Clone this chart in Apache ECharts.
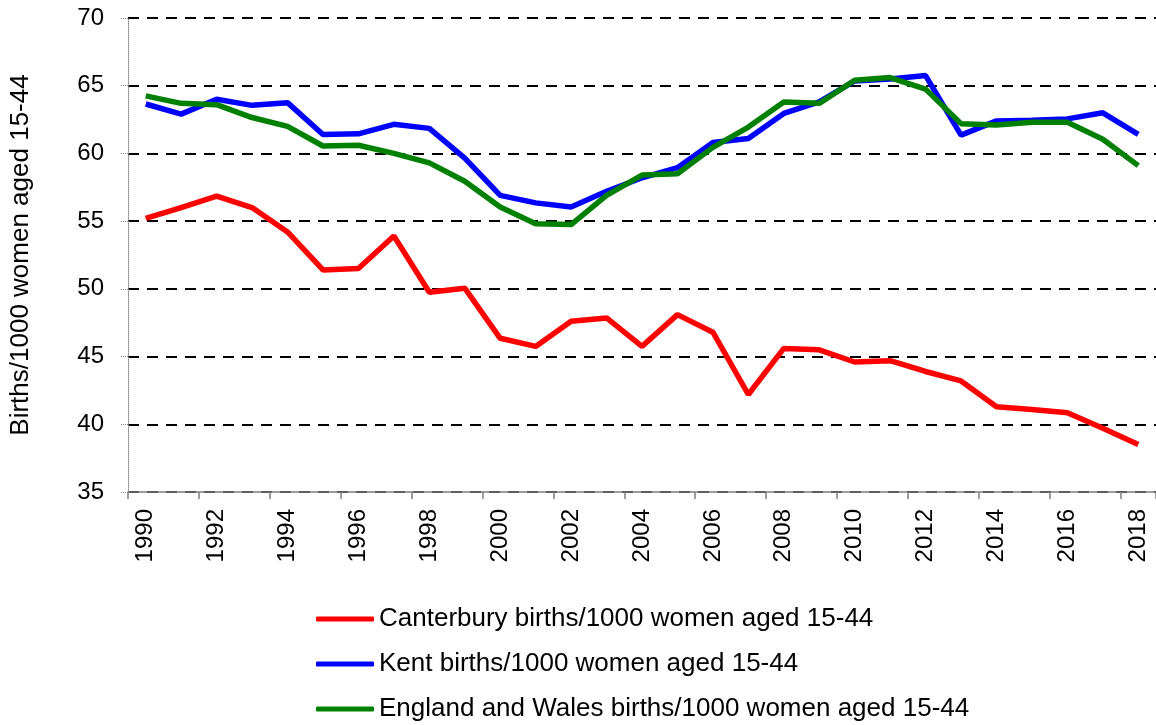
<!DOCTYPE html>
<html style="height: 100%">
<head>
    <meta charset="utf-8">
    <title>Births per 1000 women</title>
    <script src="https://cdn.jsdelivr.net/npm/echarts@6/dist/echarts.min.js"></script>
</head>
<body style="height: 100%; margin: 0; background: #fff">
    <div id="main" style="width: 1156px; height: 725px"></div>
    <script type="text/javascript">
        // years on the x axis
        var years = ['1990', '1991', '1992', '1993', '1994', '1995', '1996', '1997', '1998', '1999',
            '2000', '2001', '2002', '2003', '2004', '2005', '2006', '2007', '2008', '2009',
            '2010', '2011', '2012', '2013', '2014', '2015', '2016', '2017', '2018'];

        // births per 1000 women aged 15-44
        var canterbury = [55.2, 56.0, 56.85, 56.0, 54.2, 51.4, 51.5, 53.9, 49.75, 50.05,
            46.35, 45.75, 47.6, 47.85, 45.75, 48.1, 46.8, 42.2, 45.6, 45.5,
            44.6, 44.7, 43.9, 43.2, 41.3, 41.1, 40.85, 39.7, 38.5];
        var kent = [63.65, 62.9, 64.0, 63.55, 63.75, 61.4, 61.45, 62.15, 61.85, 59.65,
            56.9, 56.35, 56.05, 57.2, 58.2, 58.95, 60.8, 61.1, 62.95, 63.8,
            65.35, 65.5, 65.75, 61.35, 62.4, 62.45, 62.55, 63.0, 61.4];
        var englandWales = [64.25, 63.7, 63.6, 62.65, 62.0, 60.55, 60.6, 60.0, 59.3, 57.95,
            56.05, 54.8, 54.75, 56.9, 58.4, 58.5, 60.45, 61.95, 63.8, 63.7,
            65.4, 65.6, 64.75, 62.2, 62.1, 62.3, 62.3, 61.05, 59.1];

        var seriesNames = [
            'Canterbury births/1000 women aged 15-44',
            'Kent births/1000 women aged 15-44',
            'England and Wales births/1000 women aged 15-44'
        ];

        var font = 'Liberation Sans, Arial, sans-serif';
        var myChart = echarts.init(document.getElementById('main'));

        function makeLine(name, data, color) {
            return {
                name: name,
                type: 'line',
                data: data,
                symbol: 'none',
                smooth: false,
                lineStyle: { color: color, width: 5.5 },
                itemStyle: { color: color }
            };
        }

        var option = {
            animation: false,
            backgroundColor: '#ffffff',
            grid: { left: 127, top: 18, width: 1031, height: 474 },
            legend: {
                orient: 'vertical',
                left: 311,
                top: 601,
                height: 130,
                icon: 'roundRect',
                itemWidth: 58,
                itemHeight: 5,
                itemGap: 19,
                textStyle: { fontFamily: font, fontSize: 26, color: '#000' },
                data: seriesNames
            },
            xAxis: {
                type: 'category',
                data: years,
                boundaryGap: true,
                axisLine: { lineStyle: { color: '#7f7f7f', width: 1.5 } },
                axisTick: { show: true, length: 7, lineStyle: { color: '#7f7f7f', width: 1.5 } },
                axisLabel: {
                    interval: 1,
                    rotate: 90,
                    margin: 17,
                    fontFamily: font,
                    fontSize: 24,
                    color: '#000'
                },
                splitLine: { show: false }
            },
            yAxis: {
                type: 'value',
                min: 35,
                max: 70,
                interval: 5,
                name: 'Births/1000 women aged 15-44',
                nameLocation: 'middle',
                nameRotate: 90,
                nameGap: 94,
                nameTextStyle: { fontFamily: font, fontSize: 26, color: '#000' },
                axisLine: { show: true, lineStyle: { color: '#888', width: 1, type: 'dotted' } },
                axisTick: { show: true, length: 7, lineStyle: { color: '#888', type: 'dotted' } },
                axisLabel: { fontFamily: font, fontSize: 24, color: '#000', margin: 24 },
                splitLine: {
                    show: true,
                    lineStyle: { color: '#000', width: 2, type: [11, 8] }
                }
            },
            series: [
                makeLine(seriesNames[0], canterbury, '#ff0000'),
                makeLine(seriesNames[1], kent, '#0000ff'),
                makeLine(seriesNames[2], englandWales, '#008000')
            ]
        };

        myChart.setOption(option);
    </script>
</body>
</html>
